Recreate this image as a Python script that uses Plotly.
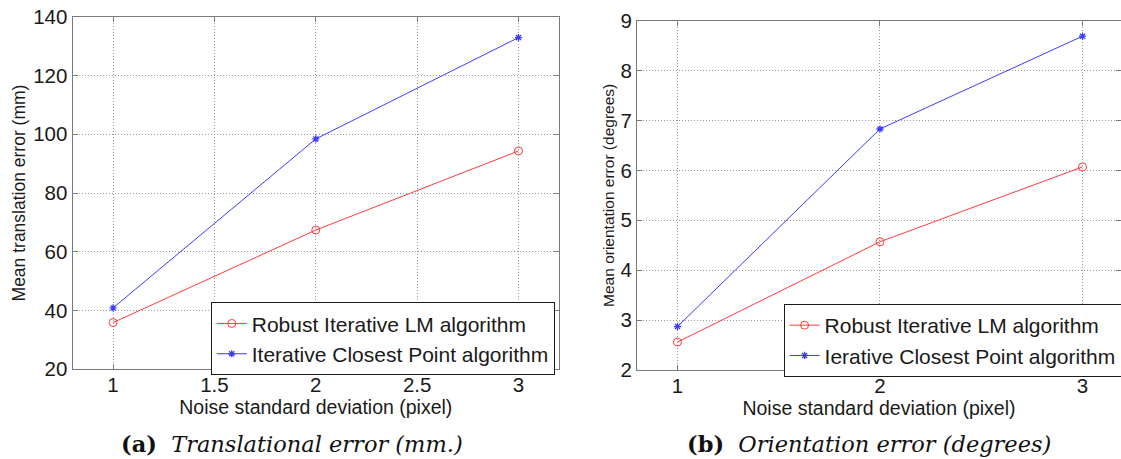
import plotly.graph_objects as go

noise_std = [1, 2, 3]
trans_robust_lm = [35.9, 67.4, 94.3]
trans_icp = [40.9, 98.4, 132.9]
orient_robust_lm = [2.56, 4.57, 6.07]
orient_icp = [2.87, 6.83, 8.69]

left_ticks_x = [1, 1.5, 2, 2.5, 3]
left_ticks_y = [20, 40, 60, 80, 100, 120, 140]
right_ticks_x = [1, 2, 3]
right_ticks_y = [2, 3, 4, 5, 6, 7, 8, 9]

RED = "#ff3b3b"
BLUE = "#3b3bff"
SANS = "Liberation Sans, Arial, sans-serif"
SERIF = "DejaVu Serif, Liberation Serif, serif"
TXT = "#1a1a1a"

fig = go.Figure()

red_marker = dict(symbol="circle-open", size=8, color=RED, line=dict(width=1, color=RED))
blue_marker = dict(symbol="asterisk-open", size=6, color=BLUE, line=dict(width=1.3, color=BLUE))

fig.add_trace(go.Scatter(x=noise_std, y=trans_robust_lm, mode="lines+markers",
                         name="Robust Iterative LM algorithm",
                         line=dict(color=RED, width=1), marker=red_marker,
                         xaxis="x", yaxis="y", legend="legend"))
fig.add_trace(go.Scatter(x=noise_std, y=trans_icp, mode="lines+markers",
                         name="Iterative Closest Point algorithm",
                         line=dict(color=BLUE, width=1), marker=blue_marker,
                         xaxis="x", yaxis="y", legend="legend"))
fig.add_trace(go.Scatter(x=noise_std, y=orient_robust_lm, mode="lines+markers",
                         name="Robust Iterative LM algorithm",
                         line=dict(color=RED, width=1), marker=red_marker,
                         xaxis="x2", yaxis="y2", legend="legend2"))
fig.add_trace(go.Scatter(x=noise_std, y=orient_icp, mode="lines+markers",
                         name="Ierative Closest Point algorithm",
                         line=dict(color=BLUE, width=1), marker=blue_marker,
                         xaxis="x2", yaxis="y2", legend="legend2"))

axis_common = dict(showline=True, linecolor="#7a7a7a", linewidth=1, mirror="ticks",
                   ticks="inside", ticklen=5, tickcolor="#7a7a7a", automargin=False,
                   showgrid=True, gridcolor="#9a9a9a", griddash="1px,2px", gridwidth=1,
                   zeroline=False, tickfont=dict(family=SANS, size=20.5, color=TXT))

fig.update_layout(
    width=1121, height=459,
    margin=dict(l=0, r=0, t=0, b=0, autoexpand=False),
    paper_bgcolor="white", plot_bgcolor="white",
    xaxis=dict(domain=[0.0647, 0.4987], range=[0.8, 3.2], tickvals=left_ticks_x,
               ticktext=[f"{v:g}" for v in left_ticks_x], ticklabelstandoff=-3,
               title=dict(text="Noise standard deviation (pixel)", font=dict(family=SANS, size=19.5, color=TXT), standoff=0),
               anchor="y", **axis_common),
    yaxis=dict(domain=[0.1954, 0.9636], range=[20, 140], tickvals=left_ticks_y,
               title=dict(text="Mean translation error (mm)", font=dict(family=SANS, size=17.5, color=TXT), standoff=3),
               anchor="x", **axis_common),
    xaxis2=dict(domain=[0.5682, 1.0], range=[0.8, 3.19], tickvals=right_ticks_x, ticklabelstandoff=-3,
                title=dict(text="Noise standard deviation (pixel)", font=dict(family=SANS, size=19.5, color=TXT), standoff=0),
                anchor="y2", **axis_common),
    yaxis2=dict(domain=[0.1939, 0.9549], range=[2, 9], tickvals=right_ticks_y,
                title=dict(text="Mean orientation error (degrees)", font=dict(family=SANS, size=15.5, color=TXT), standoff=2),
                anchor="x2", **axis_common),
    legend=dict(x=0.188, y=1-338.8/459, xanchor="left", yanchor="middle", bgcolor="white",
                bordercolor=TXT, borderwidth=1, font=dict(family=SANS, size=21, color=TXT),
                tracegroupgap=0, itemwidth=30),
    legend2=dict(x=0.699, y=1-340.5/459, xanchor="left", yanchor="middle", bgcolor="white",
                 bordercolor=TXT, borderwidth=1, font=dict(family=SANS, size=21, color=TXT),
                 tracegroupgap=0, itemwidth=30),
    annotations=[
        dict(text="<b>(a)</b>  <i>Translational error (mm.)</i>", x=292/1121, y=1-444/459,
             xref="paper", yref="paper", showarrow=False, xanchor="center", yanchor="middle",
             font=dict(family=SERIF, size=22.5, color="#111111")),
        dict(text="<b>(b)</b>  <i>Orientation error (degrees)</i>", x=869/1121, y=1-444/459,
             xref="paper", yref="paper", showarrow=False, xanchor="center", yanchor="middle",
             font=dict(family=SERIF, size=22.5, color="#111111")),
    ],
)

fig.write_html("out.html")
